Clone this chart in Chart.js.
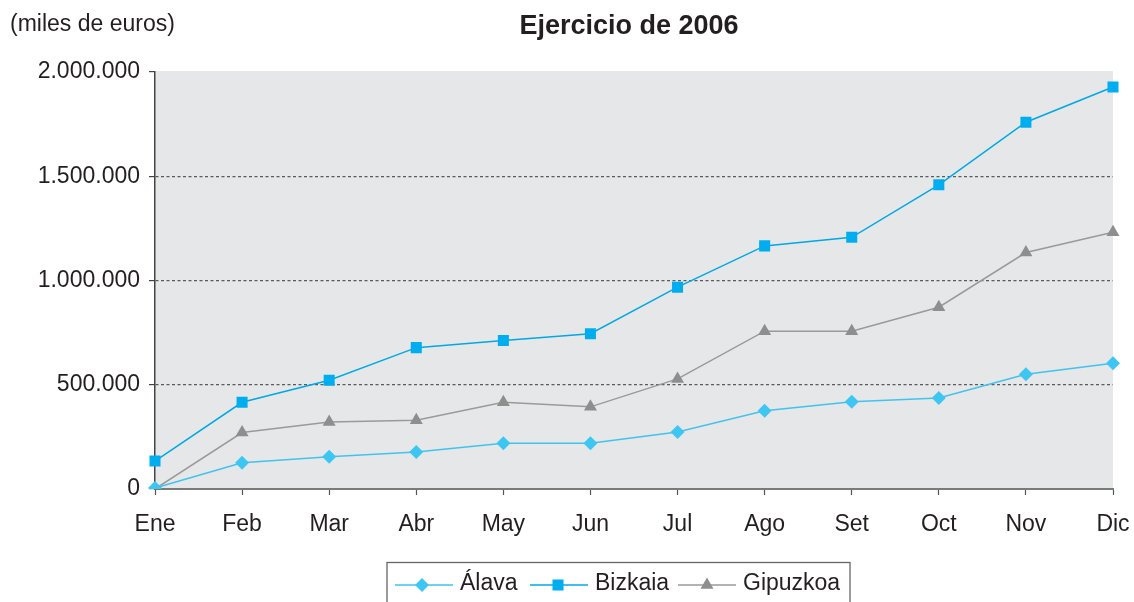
<!DOCTYPE html>
<html>
<head>
<meta charset="utf-8">
<script src="https://cdn.jsdelivr.net/npm/chart.js@4/dist/chart.umd.min.js"></script>
<style>
html, body { margin: 0; padding: 0; background: #fff; }
#wrap { width: 1134px; height: 602px; }
</style>
</head>
<body>
<div id="wrap"><canvas id="chart" width="1134" height="602"></canvas></div>
<script>
// values in miles de euros
const months = ['Ene', 'Feb', 'Mar', 'Abr', 'May', 'Jun', 'Jul', 'Ago', 'Set', 'Oct', 'Nov', 'Dic'];
const alava = [5000, 126000, 155000, 178000, 219000, 219000, 273000, 375000, 418000, 437000, 550000, 603000];
const bizkaia = [134000, 416000, 522000, 678000, 712000, 745000, 968000, 1166000, 1207000, 1459000, 1759000, 1928000];
const gipuzkoa = [0, 271000, 321000, 330000, 416000, 394000, 528000, 757000, 757000, 872000, 1134000, 1231000];
const yTicks = [0, 500000, 1000000, 1500000, 2000000];

const FONT = '"Liberation Sans", Arial, sans-serif';

function fmt(v) {
    return String(v).replace(/\B(?=(\d{3})+(?!\d))/g, '.');
}

// grey plot background, titles and the boxed legend
const decor = {
    id: 'decor',
    beforeDraw(chart) {
        const { ctx, chartArea: a } = chart;
        ctx.save();
        ctx.fillStyle = '#e6e7e8';
        ctx.fillRect(a.left, a.top - 1, a.right - a.left, a.bottom - a.top + 1);
        ctx.restore();
    },
    afterDraw(chart) {
        const ctx = chart.ctx;
        ctx.save();
        ctx.fillStyle = '#231f20';
        ctx.textBaseline = 'alphabetic';
        ctx.font = '23px ' + FONT;
        ctx.textAlign = 'left';
        ctx.fillText('(miles de euros)', 10, 31);
        ctx.font = 'bold 27px ' + FONT;
        ctx.textAlign = 'center';
        ctx.fillText('Ejercicio de 2006', 629, 34);

        // legend
        ctx.strokeStyle = '#666';
        ctx.lineWidth = 1.3;
        ctx.strokeRect(387, 562.5, 463, 50);
        const y = 585;
        const items = [
            { ds: 0, x1: 395, x2: 453, mx: 422, tx: 460 },
            { ds: 1, x1: 530, x2: 588, mx: 558, tx: 595 },
            { ds: 2, x1: 678, x2: 736, mx: 707, tx: 743 }
        ];
        items.forEach(it => {
            const d = chart.data.datasets[it.ds];
            ctx.strokeStyle = d.borderColor;
            ctx.lineWidth = d.borderWidth;
            ctx.beginPath();
            ctx.moveTo(it.x1, y);
            ctx.lineTo(it.x2, y);
            ctx.stroke();
            ctx.fillStyle = d.pointBackgroundColor;
            Chart.helpers.drawPoint(ctx, { pointStyle: d.pointStyle, radius: d.pointRadius, rotation: 0, borderWidth: 0 }, it.mx, y);
            ctx.fillStyle = '#231f20';
            ctx.font = '23px ' + FONT;
            ctx.textAlign = 'left';
            ctx.textBaseline = 'middle';
            ctx.fillText(d.label, it.tx, y - 1);
        });
        ctx.restore();
    }
};

new Chart(document.getElementById('chart'), {
    type: 'line',
    data: {
        labels: months,
        datasets: [{
            label: 'Álava',
            data: alava,
            borderColor: '#41c3ee',
            borderWidth: 1.5,
            pointStyle: 'rectRot',
            pointRadius: 7,
            pointHoverRadius: 7,
            pointBackgroundColor: '#3ec6f2',
            pointBorderWidth: 0,
            tension: 0
        }, {
            label: 'Bizkaia',
            data: bizkaia,
            borderColor: '#00a8e6',
            borderWidth: 1.5,
            pointStyle: 'rect',
            pointRadius: 7.8,
            pointHoverRadius: 7.8,
            pointBackgroundColor: '#00aeef',
            pointBorderWidth: 0,
            tension: 0
        }, {
            label: 'Gipuzkoa',
            data: gipuzkoa,
            borderColor: '#9a9a9a',
            borderWidth: 1.5,
            pointStyle: 'triangle',
            pointRadius: 7.5,
            pointHoverRadius: 7.5,
            pointBackgroundColor: '#8e8e8e',
            pointBorderWidth: 0,
            tension: 0
        }]
    },
    options: {
        responsive: false,
        animation: false,
        events: [],
        layout: { padding: { left: 0, right: 21, top: 72, bottom: 53 } },
        plugins: {
            legend: { display: false },
            title: { display: false },
            tooltip: { enabled: false }
        },
        scales: {
            x: {
                type: 'category',
                offset: false,
                afterFit(scale) {
                    scale.height = 60;
                    scale.paddingLeft = 0;
                    scale.paddingRight = 0;
                },
                grid: { drawOnChartArea: false, drawTicks: true, tickLength: 6, tickColor: '#555', tickWidth: 1.2 },
                border: { display: true, color: '#7a7a7a', width: 2 },
                ticks: {
                    font: { family: FONT, size: 23 },
                    color: '#231f20',
                    padding: 16,
                    maxRotation: 0,
                    autoSkip: false
                }
            },
            y: {
                min: 0,
                max: 2000000,
                afterFit(scale) { scale.width = 155; },
                afterBuildTicks(scale) { scale.ticks = yTicks.map(v => ({ value: v })); },
                grid: {
                    color: c => (c.tick && (c.tick.value === 0 || c.tick.value === 2000000)) ? 'rgba(0,0,0,0)' : '#5a5a5a',
                    lineWidth: 1.2,
                    drawTicks: true,
                    tickLength: 6,
                    tickColor: '#444',
                    tickWidth: 1.2
                },
                border: { display: true, color: '#444', width: 1.5, dash: [3, 2.5] },
                ticks: {
                    font: { family: FONT, size: 23 },
                    color: '#231f20',
                    padding: 9,
                    callback: v => fmt(v)
                }
            }
        }
    },
    plugins: [decor]
});
</script>
</body>
</html>
